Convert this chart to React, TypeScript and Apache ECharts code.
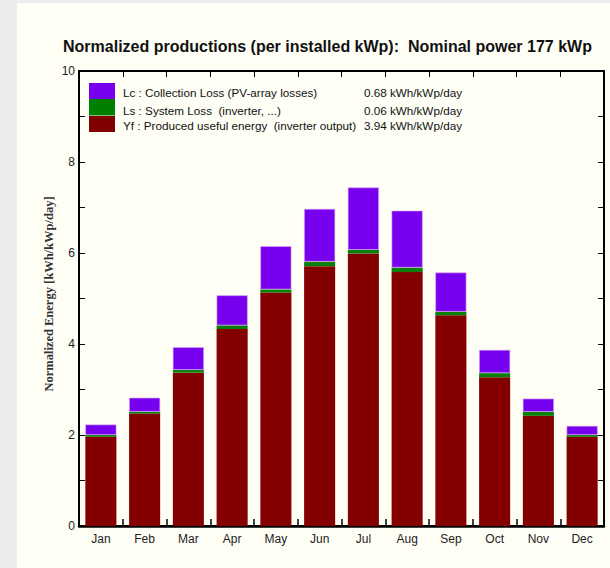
import React, { useEffect, useRef } from "react";
import * as echarts from "echarts";

const months = ["Jan", "Feb", "Mar", "Apr", "May", "Jun", "Jul", "Aug", "Sep", "Oct", "Nov", "Dec"];
const yfValues = [1.96, 2.47, 3.37, 4.33, 5.13, 5.71, 5.99, 5.58, 4.63, 3.27, 2.42, 1.96];
const lsValues = [0.04, 0.04, 0.06, 0.08, 0.07, 0.1, 0.08, 0.1, 0.08, 0.09, 0.09, 0.04];
const lcValues = [0.23, 0.31, 0.5, 0.66, 0.95, 1.16, 1.37, 1.25, 0.86, 0.51, 0.29, 0.2];
const legendLabels = [
  "Lc : Collection Loss (PV-array losses)",
  "Ls : System Loss  (inverter, ...)",
  "Yf : Produced useful energy  (inverter output)",
];
const legendValues = ["0.68 kWh/kWp/day", "0.06 kWh/kWp/day", "3.94 kWh/kWp/day"];
const legendColors = ["#7700EE", "#008000", "#800000"];
const titleText = "Normalized productions (per installed kWp):  Nominal power 177 kWp";
const yAxisTitle = "Normalized Energy [kWh/kWp/day]";

export default function App() {
  const ref = useRef<HTMLDivElement>(null);
  useEffect(() => {
    if (!ref.current) return;
    const chart = echarts.init(ref.current, undefined, { renderer: "svg" });
    const legendGraphics: any[] = [];
    const rowY = [92, 110, 125];
    const rectY = [83, 99, 116];
    legendLabels.forEach((label, i) => {
      legendGraphics.push({
        type: "rect",
        shape: { x: 89, y: rectY[i], width: 26, height: i === 2 ? 16 : 16.5 },
        style: { fill: legendColors[i] },
        z: 10,
      });
      legendGraphics.push({
        type: "text",
        x: 123,
        y: rowY[i],
        style: {
          text: label,
          fill: "#111",
          font: "11.7px 'Liberation Sans', Arial, sans-serif",
          textVerticalAlign: "middle",
          textAlign: "left",
        },
        z: 10,
      });
      legendGraphics.push({
        type: "text",
        x: 462,
        y: rowY[i],
        style: {
          text: legendValues[i],
          fill: "#111",
          font: "11.7px 'Liberation Sans', Arial, sans-serif",
          textVerticalAlign: "middle",
          textAlign: "right",
        },
        z: 10,
      });
    });

    const option: any = {
      animation: false,
      backgroundColor: "#ececec",
      title: {
        text: titleText,
        left: 58,
        top: 33,
        textStyle: {
          fontFamily: "'Liberation Sans', Arial, sans-serif",
          fontSize: 16,
          fontWeight: "bold",
          color: "#111",
        },
      },
      graphic: [
        {
          type: "rect",
          shape: { x: 17, y: 3, width: 600, height: 570 },
          style: { fill: "#FFFFF6" },
          z: -10,
          silent: true,
        },
        {
          type: "text",
          x: 49,
          y: 294,
          rotation: Math.PI / 2,
          style: {
            text: yAxisTitle,
            fill: "#333",
            font: "bold 12.5px 'Liberation Serif', 'Times New Roman', serif",
            textAlign: "center",
            textVerticalAlign: "middle",
          },
        },
        ...legendGraphics,
      ],
      grid: { left: 79, right: 6, top: 71, bottom: 42, show: true, borderColor: "#000", borderWidth: 2, backgroundColor: "transparent" },
      xAxis: [
        {
          type: "category",
          data: months,
          position: "bottom",
          axisLine: { show: true, onZero: false, lineStyle: { color: "#000", width: 2.5 } },
          axisTick: { show: true, inside: true, length: 7, lineStyle: { color: "#000", width: 1.5 } },
          axisLabel: {
            color: "#222",
            fontSize: 12,
            fontFamily: "'Liberation Sans', Arial, sans-serif",
            margin: 7,
          },
        },
        {
          type: "category",
          data: months,
          position: "top",
          axisLine: { show: true, onZero: false, lineStyle: { color: "#000", width: 2 } },
          axisTick: { show: true, inside: true, length: 6, lineStyle: { color: "#000", width: 1 } },
          axisLabel: { show: false },
        },
      ],
      yAxis: [
        {
          type: "value",
          min: 0,
          max: 10,
          interval: 1,
          position: "left",
          splitLine: { show: false },
          axisLine: { show: true, onZero: false, lineStyle: { color: "#000", width: 2 } },
          axisTick: { show: true, inside: true, length: 6, lineStyle: { color: "#000", width: 1 } },
          axisLabel: {
            color: "#222",
            fontSize: 12,
            fontFamily: "'Liberation Sans', Arial, sans-serif",
            margin: 4,
            formatter: (v: number) => (v % 2 === 0 ? String(v) : ""),
          },
        },
        {
          type: "value",
          min: 0,
          max: 10,
          interval: 1,
          position: "right",
          splitLine: { show: false },
          axisLine: { show: true, onZero: false, lineStyle: { color: "#000", width: 2 } },
          axisTick: { show: true, inside: true, length: 6, lineStyle: { color: "#000", width: 1 } },
          axisLabel: { show: false },
        },
      ],
      series: [
        {
          name: "Yf",
          type: "bar",
          stack: "e",
          data: yfValues,
          barCategoryGap: "29%",
          itemStyle: { color: "#840000" },
        },
        {
          name: "Ls",
          type: "bar",
          stack: "e",
          data: lsValues,
          itemStyle: { color: "#0A7F0A" },
        },
        {
          name: "Lc",
          type: "bar",
          stack: "e",
          data: lcValues,
          itemStyle: { color: "#7700EE", borderColor: "#D9A6F5", borderWidth: 0.6 },
        },
      ],
    };
    chart.setOption(option);
    return () => chart.dispose();
  }, []);
  return (
    <div
      ref={ref}
      style={{ position: "fixed", left: 0, top: 0, width: 610, height: 568 }}
    />
  );
}
